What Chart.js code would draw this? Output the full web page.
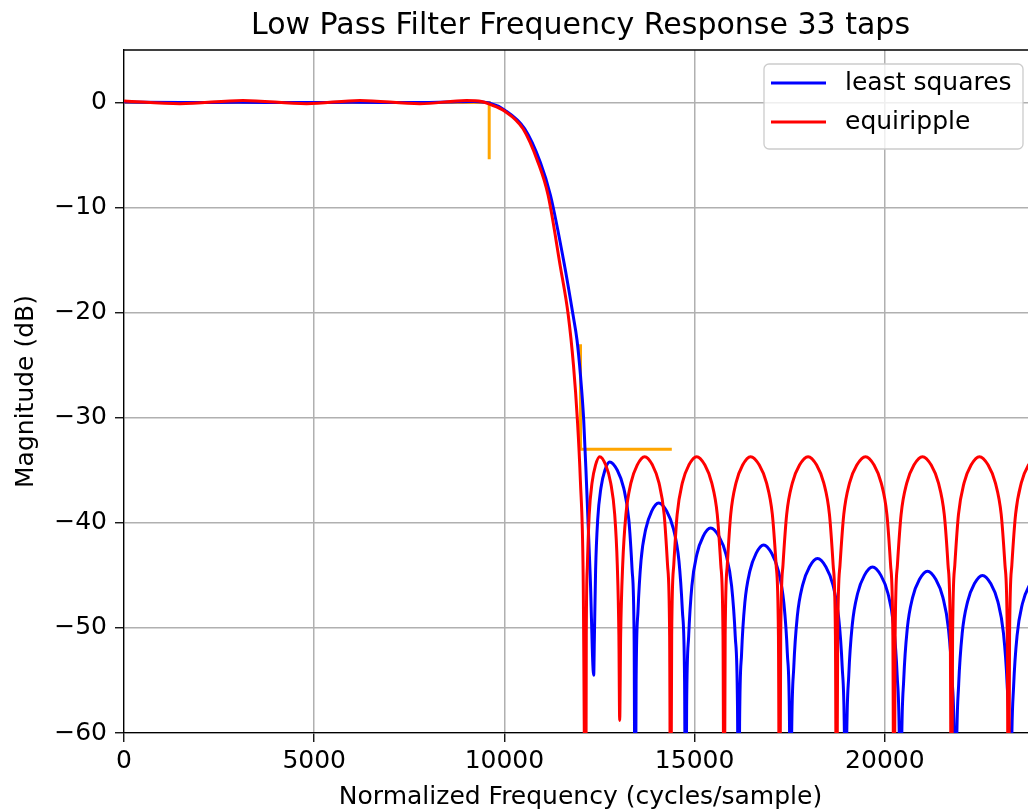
<!DOCTYPE html>
<html>
<head>
<meta charset="utf-8">
<script src="https://cdn.jsdelivr.net/npm/chart.js@4.4.1/dist/chart.umd.min.js"></script>
<style>
  html, body { margin: 0; padding: 0; overflow: hidden; background: #fff; }
  canvas { display: block; }
</style>
</head>
<body>
<canvas id="chart" width="1060" height="812"></canvas>
<script>
const chartTitle = "Low Pass Filter Frequency Response 33 taps";
const xTitle = "Normalized Frequency (cycles/sample)";
const yTitle = "Magnitude (dB)";
const seriesNames = ["least squares", "equiripple"];
const xTicks = [0, 5000, 10000, 15000, 20000];
const yTicks = [-60, -50, -40, -30, -20, -10, 0];

// least squares response
const lsqFreq = [0, 1500, 3000, 4500, 6000, 7500, 8500, 9200, 9600, 10000, 10534, 10946, 11209, 11585, 11803, 11908, 12000, 12084, 12155, 12255, 12347,
  12364, 12397, 12452, 12536, 12641, 12767, 12968, 13136, 13270, 13357, 13410, 13437,
  13462, 13511, 13591, 13715, 13869, 14054, 14267, 14445, 14587, 14679, 14736, 14764,
  14790, 14843, 14928, 15059, 15223, 15420, 15641, 15825, 15972, 16068, 16127, 16156,
  16182, 16235, 16320, 16452, 16616, 16813, 17026, 17203, 17345, 17437, 17494, 17522,
  17550, 17607, 17699, 17841, 18018, 18231, 18452, 18636, 18783, 18879, 18938, 18967,
  18995, 19052, 19144, 19286, 19463, 19676, 19897, 20081, 20228, 20324, 20383, 20412,
  20440, 20497, 20589, 20731, 20908, 21121, 21342, 21526, 21673, 21769, 21828, 21857,
  21885, 21942, 22034, 22176, 22353, 22566, 22787, 22971, 23118, 23214, 23273, 23302,
  23330, 23386, 23477, 23616, 23791, 24000];
const lsqDb = [0.05, 0.0, 0.03, 0.0, 0.03, 0.0, 0.05, 0.1, -0.05, -0.7, -2.5, -5.7, -8.8, -15.6, -20.2, -22.6, -26, -30.2, -36, -45, -54.5,
  -51.2, -44.5, -39.7, -36.7, -35.0, -34.2, -35.0, -36.7, -39.7, -44.5, -51.2, -75,
  -55.1, -48.4, -43.6, -40.6, -38.9, -38.1, -38.9, -40.6, -43.6, -48.4, -55.1, -75,
  -57.5, -50.8, -46.0, -43.0, -41.3, -40.5, -41.3, -43.0, -46.0, -50.8, -57.5, -75,
  -59.1, -52.4, -47.6, -44.6, -42.9, -42.1, -42.9, -44.6, -47.6, -52.4, -59.1, -75,
  -60.4, -53.7, -48.9, -45.9, -44.2, -43.4, -44.2, -45.9, -48.9, -53.7, -60.4, -75,
  -61.2, -54.5, -49.7, -46.7, -45.0, -44.2, -45.0, -46.7, -49.7, -54.5, -61.2, -75,
  -61.6, -54.9, -50.1, -47.1, -45.4, -44.6, -45.4, -47.1, -50.1, -54.9, -61.6, -75,
  -62.0, -55.3, -50.5, -47.5, -45.8, -45.0, -45.8, -47.5, -50.5, -55.3, -62.0, -75,
  -62.2, -55.5, -50.7, -47.7, -46.0, -45.2];

// equiripple response
const eqFreq = [0, 1470, 3126, 4800, 6200, 7776, 9000, 9400, 9600, 10000, 10490, 10884, 11147, 11465, 11677, 11815, 11918, 11997, 12070, 12137,
  12152, 12181, 12229, 12303, 12395, 12505, 12663, 12794, 12899, 12967, 13009, 13030,
  13056, 13109, 13194, 13326, 13490, 13687, 13892, 14063, 14199, 14288, 14343, 14370,
  14397, 14452, 14541, 14677, 14848, 15053, 15270, 15450, 15595, 15688, 15746, 15775,
  15803, 15859, 15949, 16088, 16262, 16471, 16700, 16890, 17043, 17142, 17203, 17233,
  17263, 17323, 17420, 17570, 17757, 17982, 18207, 18394, 18544, 18641, 18701, 18731,
  18761, 18822, 18921, 19073, 19264, 19492, 19717, 19904, 20054, 20151, 20211, 20241,
  20271, 20331, 20428, 20578, 20765, 20990, 21219, 21409, 21562, 21661, 21721, 21752,
  21781, 21840, 21936, 22083, 22267, 22487, 22716, 22906, 23059, 23158, 23219, 23249,
  23279, 23339, 23437, 23587, 23775, 24000];
const eqDb = [0.15, -0.12, 0.2, -0.12, 0.2, -0.12, 0.2, 0.1, -0.15, -0.8, -2.5, -5.7, -8.8, -15.5, -20.2, -25, -30.2, -36, -45, -75,
  -50.7, -44.0, -39.2, -36.2, -34.5, -33.7, -34.5, -36.2, -39.2, -44.0, -50.7, -58.8,
  -50.7, -44.0, -39.2, -36.2, -34.5, -33.7, -34.5, -36.2, -39.2, -44.0, -50.7, -75,
  -50.7, -44.0, -39.2, -36.2, -34.5, -33.7, -34.5, -36.2, -39.2, -44.0, -50.7, -75,
  -50.7, -44.0, -39.2, -36.2, -34.5, -33.7, -34.5, -36.2, -39.2, -44.0, -50.7, -75,
  -50.7, -44.0, -39.2, -36.2, -34.5, -33.7, -34.5, -36.2, -39.2, -44.0, -50.7, -75,
  -50.7, -44.0, -39.2, -36.2, -34.5, -33.7, -34.5, -36.2, -39.2, -44.0, -50.7, -75,
  -50.7, -44.0, -39.2, -36.2, -34.5, -33.7, -34.5, -36.2, -39.2, -44.0, -50.7, -75,
  -50.7, -44.0, -39.2, -36.2, -34.5, -33.7, -34.5, -36.2, -39.2, -44.0, -50.7, -75,
  -50.7, -44.0, -39.2, -36.2, -34.5, -33.7];

// spec markers (orange)
const passFreq = [0, 9600, 9600];
const passDb = [0, 0, -5.4];
const stopFreq = [12000, 12000, 14400];
const stopDb = [-23, -33, -33];

function pts(xs, ys) {
  return xs.map((x, i) => ({x: x, y: ys[i]}));
}

Chart.defaults.font.family = "'DejaVu Sans', sans-serif";
Chart.defaults.color = '#000';

const fontTick = {family: "'DejaVu Sans', sans-serif", size: 25};

// title, top/right spine and matplotlib-like legend
const extras = {
  id: 'extras',
  afterDraw(chart) {
    const ctx = chart.ctx;
    const a = chart.chartArea;
    ctx.save();
    ctx.strokeStyle = '#000';
    ctx.lineWidth = 1.3;
    ctx.beginPath();
    ctx.moveTo(a.left, a.top);
    ctx.lineTo(a.right, a.top);
    ctx.lineTo(a.right, a.bottom);
    ctx.stroke();

    ctx.fillStyle = '#000';
    ctx.font = "30px 'DejaVu Sans'";
    ctx.textAlign = 'center';
    ctx.textBaseline = 'middle';
    ctx.fillText(chartTitle, (a.left + a.right) / 2, 26);

    const bx = a.right - 273, by = a.top + 14, bw = 259, bh = 85;
    ctx.beginPath();
    ctx.roundRect(bx, by, bw, bh, 5);
    ctx.fillStyle = 'rgba(255,255,255,0.8)';
    ctx.fill();
    ctx.strokeStyle = '#cccccc';
    ctx.lineWidth = 1.3;
    ctx.stroke();

    const colors = ['#0000ff', '#ff0000'];
    ctx.font = "25px 'DejaVu Sans'";
    ctx.textAlign = 'left';
    seriesNames.forEach((name, i) => {
      const y = by + 19 + i * 39;
      ctx.strokeStyle = colors[i];
      ctx.lineWidth = 3;
      ctx.beginPath();
      ctx.moveTo(bx + 7, y);
      ctx.lineTo(bx + 62, y);
      ctx.stroke();
      ctx.fillStyle = '#000';
      ctx.fillText(name, bx + 81, y);
    });
    ctx.restore();
  }
};

new Chart(document.getElementById('chart'), {
  type: 'line',
  data: {
    datasets: [
      {label: seriesNames[0], data: pts(lsqFreq, lsqDb), borderColor: '#0000ff', borderWidth: 3, pointRadius: 0, cubicInterpolationMode: 'monotone', clip: 0, order: 2},
      {label: seriesNames[1], data: pts(eqFreq, eqDb), borderColor: '#ff0000', borderWidth: 3, pointRadius: 0, cubicInterpolationMode: 'monotone', clip: 0, order: 1},
      {label: 'pass', data: pts(passFreq, passDb), borderColor: '#ffa500', borderWidth: 3, pointRadius: 0, tension: 0, clip: 0, order: 3},
      {label: 'stop', data: pts(stopFreq, stopDb), borderColor: '#ffa500', borderWidth: 3, pointRadius: 0, tension: 0, clip: 0, order: 3}
    ]
  },
  options: {
    responsive: false,
    animation: false,
    events: [],
    layout: {padding: {top: 50, right: 23, left: 0, bottom: 0}},
    plugins: {
      legend: {display: false},
      tooltip: {enabled: false},
      title: {display: false}
    },
    scales: {
      x: {
        type: 'linear',
        min: 0,
        max: 24000,
        afterBuildTicks: s => { s.ticks = xTicks.map(v => ({value: v})); },
        afterFit: s => { s.height = 79; },
        grid: {color: '#b0b0b0', lineWidth: 1.5, tickColor: '#000', tickLength: 9, tickWidth: 1.3},
        border: {color: '#000', width: 1.3},
        ticks: {color: '#000', font: fontTick, padding: 4, maxRotation: 0, autoSkip: false, callback: v => String(v)},
        title: {display: true, text: xTitle, color: '#000', font: fontTick, padding: {top: 0, bottom: 0}}
      },
      y: {
        type: 'linear',
        min: -60,
        max: 5,
        afterBuildTicks: s => { s.ticks = yTicks.map(v => ({value: v})); },
        afterFit: s => { s.width = 124; },
        grid: {color: '#b0b0b0', lineWidth: 1.5, tickColor: '#000', tickLength: 9, tickWidth: 1.3},
        border: {color: '#000', width: 1.3},
        ticks: {color: '#000', font: fontTick, padding: 8, autoSkip: false, callback: v => v < 0 ? '\u2212' + (-v) : String(v)},
        title: {display: true, text: yTitle, color: '#000', font: fontTick, padding: {top: 11, bottom: 0}}
      }
    }
  },
  plugins: [extras]
});
</script>
</body>
</html>
